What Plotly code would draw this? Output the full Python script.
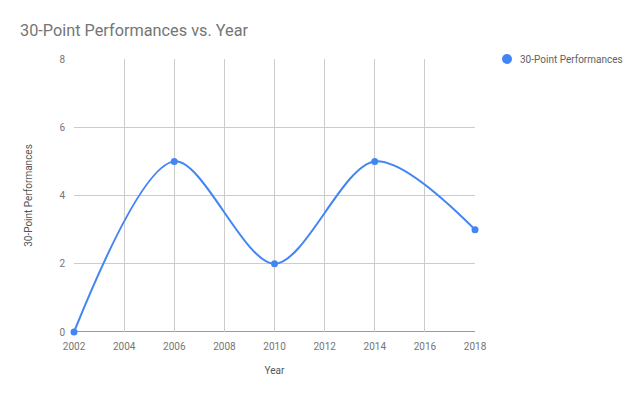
import plotly.graph_objects as go

years = [2002, 2006, 2010, 2014, 2018]
performances = [0, 5, 2, 5, 3]
x_ticks = [2002, 2004, 2006, 2008, 2010, 2012, 2014, 2016, 2018]
y_ticks = [0, 2, 4, 6, 8]
series_name = "30-Point Performances"

# plot area in figure coords (page has an 8px body offset)
L, T, PW, PH = 66, 51, 401, 273
W, H = 640, 396

fig = go.Figure()
fig.add_trace(go.Scatter(
    x=years, y=performances, mode="lines+markers",
    name=series_name, showlegend=False, cliponaxis=False,
    line=dict(color="#4285F4", width=2, shape="spline", smoothing=0.9),
    marker=dict(color="#4285F4", size=7),
))

lx, ly = 499, 51  # legend circle centre (figure px)
fig.update_layout(
    width=W, height=H,
    paper_bgcolor="white", plot_bgcolor="white",
    font=dict(family="Roboto", color="#757575", size=10),
    title=dict(text="30-Point Performances vs. Year", x=12/W, xanchor="left",
               y=1 - 22/H, yanchor="middle",
               font=dict(family="Roboto", size=16.3, color="#757575")),
    margin=dict(l=L, r=W - L - PW, t=T, b=H - T - PH, autoexpand=False),
    showlegend=False,
    xaxis=dict(range=[2002, 2018], tickvals=x_ticks, showgrid=True, automargin=False,
               gridcolor="#cccccc", zeroline=False, showline=False,
               ticks="outside", ticklen=5, tickcolor="rgba(0,0,0,0)",
               title=dict(text="Year", font=dict(size=10, color="#555555"), standoff=15),
               tickfont=dict(color="#757575", size=10)),
    yaxis=dict(range=[0, 8], tickvals=y_ticks, showgrid=True, automargin=False,
               gridcolor="#cccccc", zeroline=False, showline=False,
               ticks="outside", ticklen=6, tickcolor="rgba(0,0,0,0)",
               title=dict(text=series_name, font=dict(size=10, color="#555555"), standoff=24),
               tickfont=dict(color="#757575", size=10)),
    shapes=[
        dict(type="line", xref="paper", yref="y", x0=0, x1=1, y0=0, y1=0,
             line=dict(color="#333333", width=1), layer="below"),
        dict(type="circle", xref="paper", yref="paper",
             x0=(lx - 5 - L) / PW, x1=(lx + 5 - L) / PW,
             y0=(T + PH - ly - 5) / PH, y1=(T + PH - ly + 5) / PH,
             fillcolor="#4285F4", line=dict(width=0)),
    ],
    annotations=[
        dict(text=series_name, xref="paper", yref="paper",
             x=(lx + 11 - L) / PW, y=(T + PH - ly) / PH, xanchor="left", yanchor="middle",
             showarrow=False, font=dict(size=10, color="#616161")),
    ],
)
fig.write_html("out.html")
